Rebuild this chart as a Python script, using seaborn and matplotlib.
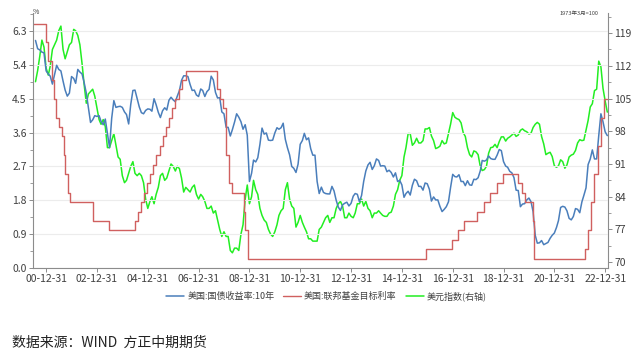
import numpy as np
import pandas as pd
import matplotlib
matplotlib.use("Agg")
import matplotlib.pyplot as plt
import matplotlib.dates as mdates
from matplotlib.ticker import FixedLocator
import seaborn as sns

sns.set_theme(style="white")
plt.rcParams['font.family'] = ['Noto Sans CJK SC', 'DejaVu Sans']

# ---------------- data ----------------
# monthly, 2000-07 .. 2023-01
yield_10y = [
    6.05, 5.83, 5.80, 5.74, 5.72, 5.24,
    5.16, 5.10, 4.89, 5.14, 5.39, 5.28, 5.24, 4.97, 4.73, 4.57, 4.65, 5.09,
    5.04, 4.91, 5.28, 5.21, 5.16, 4.93, 4.65, 4.26, 3.87, 3.94, 4.05, 4.03,
    4.05, 3.90, 3.81, 3.96, 3.57, 3.20, 3.98, 4.45, 4.27, 4.29, 4.30, 4.27,
    4.15, 4.08, 3.83, 4.35, 4.72, 4.73, 4.50, 4.28, 4.13, 4.10, 4.19, 4.23,
    4.22, 4.17, 4.50, 4.34, 4.14, 4.00, 4.18, 4.26, 4.20, 4.46, 4.54, 4.47,
    4.42, 4.57, 4.72, 4.99, 5.11, 5.11, 5.09, 4.88, 4.72, 4.73, 4.60, 4.56,
    4.76, 4.72, 4.56, 4.69, 4.75, 5.10, 5.00, 4.67, 4.52, 4.53, 4.15, 4.10,
    3.74, 3.74, 3.51, 3.68, 3.88, 4.10, 4.01, 3.89, 3.69, 3.81, 3.53, 2.30,
    2.52, 2.87, 2.82, 2.93, 3.29, 3.72, 3.56, 3.59, 3.40, 3.39, 3.40, 3.59,
    3.73, 3.69, 3.73, 3.85, 3.42, 3.20, 3.01, 2.70, 2.65, 2.54, 2.76, 3.29,
    3.39, 3.58, 3.41, 3.46, 3.17, 3.00, 3.00, 2.30, 1.98, 2.15, 2.01, 1.98,
    1.97, 1.97, 2.17, 2.05, 1.80, 1.62, 1.53, 1.68, 1.72, 1.75, 1.65, 1.72,
    1.91, 1.98, 1.96, 1.76, 1.93, 2.30, 2.58, 2.74, 2.81, 2.62, 2.72, 2.90,
    2.86, 2.71, 2.72, 2.71, 2.56, 2.60, 2.54, 2.42, 2.53, 2.30, 2.33, 2.21,
    1.88, 1.98, 2.04, 1.94, 2.20, 2.36, 2.32, 2.17, 2.17, 2.07, 2.26, 2.24,
    2.09, 1.78, 1.89, 1.81, 1.81, 1.64, 1.50, 1.56, 1.63, 1.76, 2.14, 2.49,
    2.43, 2.42, 2.48, 2.30, 2.30, 2.19, 2.32, 2.21, 2.20, 2.36, 2.35, 2.40,
    2.58, 2.86, 2.84, 2.87, 2.98, 2.91, 2.89, 2.89, 3.00, 3.15, 3.12, 2.83,
    2.71, 2.68, 2.57, 2.53, 2.40, 2.07, 2.06, 1.63, 1.70, 1.71, 1.81, 1.86,
    1.76, 1.50, 0.87, 0.66, 0.67, 0.73, 0.62, 0.65, 0.68, 0.79, 0.87, 0.93,
    1.08, 1.26, 1.61, 1.64, 1.62, 1.52, 1.32, 1.28, 1.37, 1.58, 1.56, 1.47,
    1.76, 1.93, 2.13, 2.75, 2.90, 3.14, 2.90, 2.90, 3.52, 4.10, 3.89, 3.62,
    3.52,
]
usd_index = [
    108.6, 111.0, 114.0, 117.5, 116.0, 111.5,
    110.0, 112.0, 115.5, 116.5, 117.5, 119.5, 120.5, 115.5, 113.5, 115.0, 116.5, 117.0,
    119.8, 119.5, 118.5, 116.5, 112.5, 108.0, 104.0, 106.0, 106.5, 107.0, 105.5, 103.0,
    100.5, 99.5, 100.5, 99.0, 94.5, 94.5, 96.0, 97.5, 95.0, 92.5, 92.0, 88.5,
    87.0, 87.5, 89.0, 90.5, 91.5, 89.0, 88.5, 89.0, 88.5, 87.0, 83.5, 81.5,
    83.0, 84.0, 82.5, 84.5, 86.0, 88.5, 89.0, 87.5, 88.0, 89.5, 91.0, 90.5,
    89.5, 90.5, 90.0, 88.0, 85.0, 86.0, 85.5, 85.0, 86.0, 86.5, 84.5, 83.5,
    84.5, 84.0, 83.0, 81.5, 81.5, 82.0, 80.5, 81.0, 79.0, 77.0, 75.5, 76.5,
    75.5, 75.5, 72.5, 72.0, 73.0, 73.0, 72.5, 76.0, 78.0, 83.5, 86.5, 82.5,
    84.0, 87.5, 85.5, 84.5, 81.5, 80.0, 79.0, 78.5, 77.0, 76.0, 75.5, 76.5,
    78.0, 80.0, 81.0, 81.5, 85.5, 87.0, 83.5, 82.0, 81.5, 77.5, 78.5, 80.0,
    78.5, 77.5, 76.5, 75.0, 75.0, 74.5, 74.5, 74.5, 77.0, 77.5, 78.5, 79.5,
    80.0, 78.5, 79.5, 79.5, 81.5, 82.5, 83.0, 82.0, 79.5, 79.5, 80.5, 79.8,
    79.5, 80.5, 82.5, 82.5, 83.5, 82.0, 83.0, 81.5, 81.0, 79.5, 80.5, 80.5,
    81.0, 80.5, 80.0, 79.8, 79.8, 80.5, 80.7, 82.0, 84.5, 85.5, 87.5, 88.5,
    92.5, 94.5, 97.5, 97.5, 95.0, 95.5, 96.5, 95.5, 95.5, 96.0, 98.5, 98.5,
    98.8, 97.0, 96.0, 94.3, 94.5, 94.8, 96.0, 95.3, 95.5, 97.5, 99.5, 102.0,
    101.0, 100.7, 100.5, 99.8, 97.7, 96.9, 94.5, 93.0, 92.5, 93.8, 93.6, 93.0,
    90.5, 89.6, 89.8, 90.5, 93.3, 94.5, 94.6, 95.2, 94.5, 95.8, 96.8, 96.8,
    95.9, 96.5, 96.8, 97.2, 97.6, 96.9, 97.2, 98.2, 98.5, 98.1, 97.9, 97.4,
    97.6, 98.8, 99.5, 99.9, 99.5, 96.9, 95.3, 93.0, 93.3, 93.5, 92.6, 90.6,
    90.3, 90.6, 91.9, 91.5, 90.1, 90.8, 92.5, 92.9, 93.1, 93.9, 95.5, 96.2,
    96.0, 96.1, 98.2, 100.3, 103.2, 103.9, 106.7, 107.0, 113.0, 111.8, 107.2, 104.5,
    102.1,
]
monthly_dates = pd.date_range("2000-07-31", periods=len(yield_10y), freq="ME")

fed_dates = [
    "2000-06-01", "2001-01-03", "2001-01-31", "2001-03-20", "2001-04-18", "2001-05-15",
    "2001-06-27", "2001-08-21", "2001-09-17", "2001-10-02", "2001-11-06", "2001-12-11",
    "2002-11-06", "2003-06-25", "2004-06-30", "2004-08-10", "2004-09-21", "2004-11-10",
    "2004-12-14", "2005-02-02", "2005-03-22", "2005-05-03", "2005-06-30", "2005-08-09",
    "2005-09-20", "2005-11-01", "2005-12-13", "2006-01-31", "2006-03-28", "2006-05-10",
    "2006-06-29", "2007-09-18", "2007-10-31", "2007-12-11", "2008-01-22", "2008-01-30",
    "2008-03-18", "2008-04-30", "2008-10-08", "2008-10-29", "2008-12-16", "2015-12-16",
    "2016-12-14", "2017-03-15", "2017-06-14", "2017-12-13", "2018-03-21", "2018-06-13",
    "2018-09-26", "2018-12-19", "2019-07-31", "2019-09-18", "2019-10-30", "2020-03-03",
    "2020-03-15", "2022-03-16", "2022-05-04", "2022-06-15", "2022-07-27", "2022-09-21",
    "2022-11-02", "2022-12-14", "2023-01-31",
]
fed_rate = [
    6.5, 6.0, 5.5, 5.0, 4.5, 4.0,
    3.75, 3.5, 3.0, 2.5, 2.0, 1.75,
    1.25, 1.0, 1.25, 1.5, 1.75, 2.0,
    2.25, 2.5, 2.75, 3.0, 3.25, 3.5,
    3.75, 4.0, 4.25, 4.5, 4.75, 5.0,
    5.25, 4.75, 4.5, 4.25, 3.5, 3.0,
    2.25, 2.0, 1.5, 1.0, 0.25, 0.5,
    0.75, 1.0, 1.25, 1.5, 1.75, 2.0,
    2.25, 2.5, 2.25, 2.0, 1.75, 1.25,
    0.25, 0.5, 1.0, 1.75, 2.5, 3.25,
    4.0, 4.5, 4.5,
]

left_ticks = [0.0, 0.9, 1.8, 2.7, 3.6, 4.5, 5.4, 6.3]
right_ticks = [70, 77, 84, 91, 98, 105, 112, 119]
x_tick_years = list(range(2000, 2023, 2))

label_yield = "美国:国债收益率:10年"
label_fed = "美国:联邦基金目标利率"
label_usd = "美元指数(右轴)"

df_m = pd.DataFrame({"date": monthly_dates, "yield": yield_10y, "usd": usd_index})
df_f = pd.DataFrame({"date": pd.to_datetime(fed_dates), "rate": fed_rate})

# ---------------- plot ----------------
c_blue = "#4a7ebb"
c_red = "#d0605f"
c_green = "#22ee22"
c_axis = "#8c8c8c"
c_text = "#404040"

fig = plt.figure(figsize=(6.4, 3.57), dpi=100)
ax = fig.add_axes([33/640, 1 - 268/357, (608 - 33)/640, (268 - 13)/357])
ax2 = ax.twinx()

sns.lineplot(data=df_m, x="date", y="yield", ax=ax, color=c_blue, lw=1.1, label=label_yield, legend=False)
sns.lineplot(data=df_f, x="date", y="rate", ax=ax, color=c_red, lw=1.0, drawstyle="steps-post",
             label=label_fed, legend=False)
sns.lineplot(data=df_m, x="date", y="usd", ax=ax2, color=c_green, lw=1.1, label=label_usd, legend=False)
ax.set_zorder(ax2.get_zorder() + 1)
ax.patch.set_visible(False)

ax.set_xlim(pd.Timestamp("2000-06-25"), pd.Timestamp("2023-02-10"))
ax.set_ylim(0, 6.78)
ax2.set_ylim(68.75, 123.3)

ax.set_yticks(left_ticks)
ax.set_yticklabels([f"{v:.1f}" for v in left_ticks])
ax.yaxis.set_minor_locator(FixedLocator([v + 0.45 for v in left_ticks]))
ax2.set_yticks(right_ticks)
ax2.set_yticklabels([str(v) for v in right_ticks])
ax2.yaxis.set_minor_locator(FixedLocator([v + 3.5 for v in right_ticks]))

xt = [pd.Timestamp(f"{y}-12-31") for y in x_tick_years]
ax.set_xticks(xt)
ax.set_xticklabels([t.strftime("%y-%m-%d") for t in xt])
ax.xaxis.set_minor_locator(FixedLocator(mdates.date2num([pd.Timestamp(f"{y}-12-31") for y in range(2001, 2023, 2)])))

ax.set_xlabel("")
ax.set_ylabel("")
ax2.set_ylabel("")

ax.grid(axis="y", color="#ececec", lw=0.8)
ax2.grid(False)

for a in (ax, ax2):
    for s in a.spines.values():
        s.set_visible(False)
ax.spines["left"].set_visible(True)
ax.spines["bottom"].set_visible(True)
ax2.spines["right"].set_visible(True)
for s in (ax.spines["left"], ax.spines["bottom"], ax2.spines["right"]):
    s.set_color(c_axis)
    s.set_linewidth(0.8)

ax.tick_params(axis="both", which="major", direction="out", length=3, width=0.7, color=c_axis,
               labelsize=7.5, labelcolor=c_text, pad=1.5)
ax.tick_params(axis="both", which="minor", direction="out", length=2, width=0.6, color=c_axis)
ax.tick_params(axis="y", left=True)
ax.tick_params(axis="x", bottom=True)
ax2.tick_params(axis="y", which="major", direction="out", length=3, width=0.7, color=c_axis,
                labelsize=7.5, labelcolor=c_text, pad=1.5, right=True)
ax2.tick_params(axis="y", which="minor", direction="out", length=2, width=0.6, color=c_axis, right=True)

fig.text(33/640, 1 - 12/357, "%", fontsize=5, color=c_text, ha="left", va="center")
fig.text(598/640, 1 - 13/357, "1973年3月=100", fontsize=4, color=c_text, ha="right", va="center")

handles = ax.get_lines()[:2] + ax2.get_lines()[:1]
labels = [label_yield, label_fed, label_usd]
fig.legend(handles, labels, loc="center", bbox_to_anchor=(0.51, 1 - 296/357), ncol=3, frameon=False,
           fontsize=6.5, handlelength=2.0, handletextpad=0.3, columnspacing=1.0, labelcolor=c_text)

fig.text(12/640, 1 - 343/357, "数据来源：WIND  方正中期期货", fontsize=10, color="#222222",
         ha="left", va="center")

fig.savefig("out.png", dpi=100)
